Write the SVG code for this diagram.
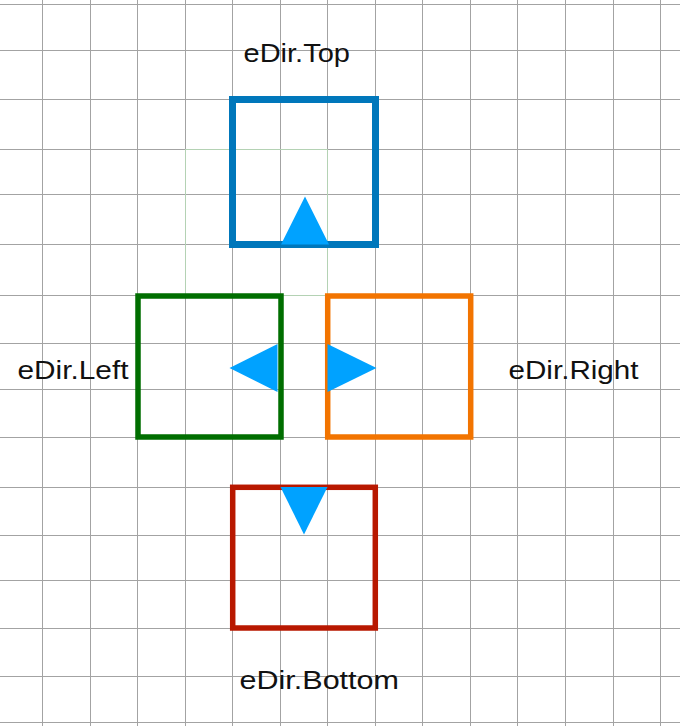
<svg xmlns="http://www.w3.org/2000/svg" width="680" height="726" viewBox="0 0 680 726">
  <style>
    .grid line { stroke: #a3a3a3; stroke-width: 1; }
    .guide { fill: none; stroke: #b4d2b4; stroke-width: 1; }
    .box { fill: none; }
    .arrow { fill: #00a2ff; }
    .label { font-family: "Liberation Sans", Arial, sans-serif; font-size: 25px; fill: #111111; }
  </style>
  <rect x="0" y="0" width="680" height="726" fill="#ffffff"/>
  <g id="grid" class="grid">
    <line x1="42.5" y1="0" x2="42.5" y2="726"/>
    <line x1="90.5" y1="0" x2="90.5" y2="726"/>
    <line x1="137.5" y1="0" x2="137.5" y2="726"/>
    <line x1="185.5" y1="0" x2="185.5" y2="726"/>
    <line x1="232.5" y1="0" x2="232.5" y2="726"/>
    <line x1="280.5" y1="0" x2="280.5" y2="726"/>
    <line x1="327.5" y1="0" x2="327.5" y2="726"/>
    <line x1="375.5" y1="0" x2="375.5" y2="726"/>
    <line x1="422.5" y1="0" x2="422.5" y2="726"/>
    <line x1="470.5" y1="0" x2="470.5" y2="726"/>
    <line x1="517.5" y1="0" x2="517.5" y2="726"/>
    <line x1="565.5" y1="0" x2="565.5" y2="726"/>
    <line x1="613.5" y1="0" x2="613.5" y2="726"/>
    <line x1="660.5" y1="0" x2="660.5" y2="726"/>
    <line x1="0" y1="4.5" x2="680" y2="4.5"/>
    <line x1="0" y1="50.5" x2="680" y2="50.5"/>
    <line x1="0" y1="99.5" x2="680" y2="99.5"/>
    <line x1="0" y1="149.5" x2="680" y2="149.5"/>
    <line x1="0" y1="194.5" x2="680" y2="194.5"/>
    <line x1="0" y1="244.5" x2="680" y2="244.5"/>
    <line x1="0" y1="295.5" x2="680" y2="295.5"/>
    <line x1="0" y1="343.5" x2="680" y2="343.5"/>
    <line x1="0" y1="389.5" x2="680" y2="389.5"/>
    <line x1="0" y1="437.5" x2="680" y2="437.5"/>
    <line x1="0" y1="487.5" x2="680" y2="487.5"/>
    <line x1="0" y1="535.5" x2="680" y2="535.5"/>
    <line x1="0" y1="580.5" x2="680" y2="580.5"/>
    <line x1="0" y1="628.5" x2="680" y2="628.5"/>
    <line x1="0" y1="676.5" x2="680" y2="676.5"/>
    <line x1="0" y1="722.5" x2="680" y2="722.5"/>
  </g>
  <rect class="guide" x="185.5" y="149.5" width="142" height="146"/>
  <g id="connectors"></g>
  <g id="node-top">
    <rect class="box" x="232.5" y="99.5" width="143" height="145" stroke="#0077bb" stroke-width="7"/>
    <polygon class="arrow" points="281,244.5 329,244.5 305,196.5"/>
    <text class="label" x="243.5" y="62" textLength="106.5" lengthAdjust="spacingAndGlyphs">eDir.Top</text>
  </g>
  <g id="node-left">
    <polygon class="arrow" points="277.5,344 277.5,392 229.5,368"/>
    <rect class="box" x="138" y="296" width="143" height="141" stroke="#006e00" stroke-width="5.5"/>
    <text class="label" x="17.5" y="378.5" textLength="111" lengthAdjust="spacingAndGlyphs">eDir.Left</text>
  </g>
  <g id="node-right">
    <rect class="box" x="327.7" y="296" width="143" height="141" stroke="#f27400" stroke-width="5.5"/>
    <polygon class="arrow" points="327.5,344 327.5,392 376.5,368"/>
    <text class="label" x="508.5" y="378.5" textLength="130" lengthAdjust="spacingAndGlyphs">eDir.Right</text>
  </g>
  <g id="node-bottom">
    <rect class="box" x="232.7" y="487.3" width="142.6" height="140.7" stroke="#b81800" stroke-width="5.5"/>
    <polygon class="arrow" points="280.5,487 327.5,487 304,534.5"/>
    <text class="label" x="239.5" y="688.5" textLength="159.5" lengthAdjust="spacingAndGlyphs">eDir.Bottom</text>
  </g>
</svg>
